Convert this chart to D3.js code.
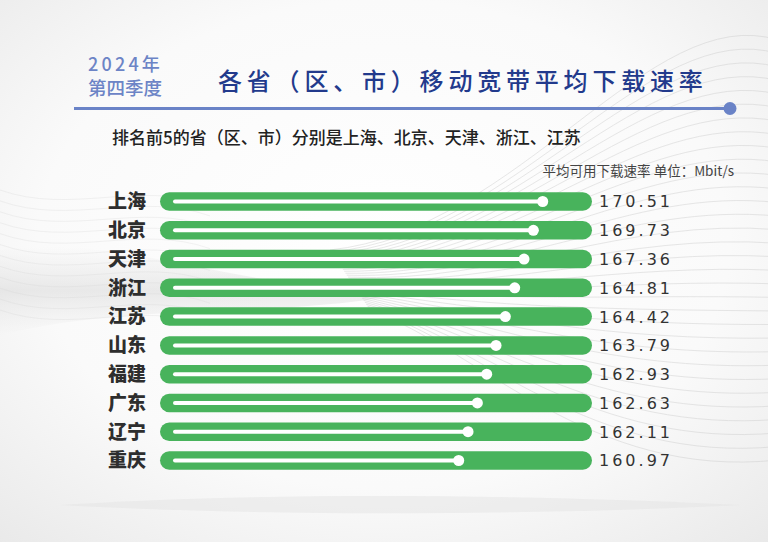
<!DOCTYPE html>
<html>
<head>
<meta charset="utf-8">
<script src="https://cdn.jsdelivr.net/npm/d3@7"></script>
<style>
  html, body { margin: 0; padding: 0; background: #f6f6f6; }
  svg { display: block; }
</style>
</head>
<body>
<div id="chart"></div>
<script>
// ---- data ----
const provinces = ["上海", "北京", "天津", "浙江", "江苏", "山东", "福建", "广东", "辽宁", "重庆"];
const speeds = [170.51, 169.73, 167.36, 164.81, 164.42, 163.79, 162.93, 162.63, 162.11, 160.97];
const yearLabel = "2024年";
const quarterLabel = "第四季度";
const titleText = "各省（区、市）移动宽带平均下载速率";
const subtitleText = "排名前5的省（区、市）分别是上海、北京、天津、浙江、江苏";
const unitText = "平均可用下载速率 单位：Mbit/s";

const W = 768, H = 542;
const CJK = "'Noto Sans CJK SC', 'Noto Sans', sans-serif";

const svg = d3.select("#chart").append("svg")
  .attr("width", W).attr("height", H).attr("viewBox", `0 0 ${W} ${H}`);

// ---- background ----
const defs = svg.append("defs");
const bg = defs.append("radialGradient").attr("id", "bg")
  .attr("cx", "50%").attr("cy", "45%").attr("r", "75%");
bg.append("stop").attr("offset", "0%").attr("stop-color", "#ffffff");
bg.append("stop").attr("offset", "60%").attr("stop-color", "#fafafa");
bg.append("stop").attr("offset", "100%").attr("stop-color", "#e9e9e9");
svg.append("rect").attr("width", W).attr("height", H).attr("fill", "url(#bg)");

const shade = defs.append("linearGradient").attr("id", "shade")
  .attr("x1", "0").attr("y1", "0").attr("x2", "0").attr("y2", "1");
shade.append("stop").attr("offset", "0%").attr("stop-color", "#dcdcdc").attr("stop-opacity", 0.0);
shade.append("stop").attr("offset", "50%").attr("stop-color", "#d6d6d6").attr("stop-opacity", 0.5);
shade.append("stop").attr("offset", "100%").attr("stop-color", "#dcdcdc").attr("stop-opacity", 0.0);

// soft grey sweep on the left
svg.append("path")
  .attr("d", "M0,250 C120,230 260,300 420,290 C300,320 140,300 0,335 Z")
  .attr("fill", "url(#shade)");
// soft band at bottom
svg.append("path")
  .attr("d", "M60,505 C260,492 520,494 740,505 C520,516 260,516 60,505 Z")
  .attr("fill", "#e4e4e4").attr("opacity", 0.5);

// decorative wave lines (right side)
const waveG = svg.append("g").attr("fill", "none").attr("stroke", "#c8c8c8")
  .attr("stroke-width", 0.7).attr("opacity", 0.6);
d3.range(32).forEach(i => {
  const t = i / 31;
  const y0 = 40 + t * 420;
  waveG.append("path").attr("d",
    `M${W + 10},${y0} C${650 - t * 60},${y0 - 40 + t * 60} ${520 - t * 40},${230 + t * 120} ${330 + t * 40},${250 + t * 60}`);
});
const waveL = svg.append("g").attr("fill", "none").attr("stroke", "#d4d4d4")
  .attr("stroke-width", 0.6).attr("opacity", 0.45);
d3.range(12).forEach(i => {
  const t = i / 11;
  const y0 = 190 + t * 120;
  waveL.append("path").attr("d",
    `M0,${y0} C70,${y0 + 25} 140,${y0 - 10} 210,${y0 + 15}`);
});

// ---- header ----
const tag = svg.append("text")
  .attr("font-family", CJK).attr("font-weight", 500).attr("fill", "#6c84c6");
tag.append("tspan").text(yearLabel)
  .attr("x", 88).attr("y", 71).attr("font-size", 18).attr("letter-spacing", 3.2);
tag.append("tspan").text(quarterLabel)
  .attr("x", 88).attr("y", 94.5).attr("font-size", 18.5);

svg.append("text").text(titleText)
  .attr("x", 218).attr("y", 89.5)
  .attr("font-family", CJK).attr("font-size", 24).attr("font-weight", 500)
  .attr("letter-spacing", 4.8).attr("fill", "#223a8c");

svg.append("line")
  .attr("x1", 74).attr("x2", 730).attr("y1", 108.5).attr("y2", 108.5)
  .attr("stroke", "#6a83c7").attr("stroke-width", 3);
svg.append("circle").attr("cx", 730).attr("cy", 108.5).attr("r", 6.5).attr("fill", "#6a83c7");

svg.append("text").text(subtitleText)
  .attr("x", 112).attr("y", 144)
  .attr("font-family", CJK).attr("font-size", 17).attr("font-weight", 500)
  .attr("fill", "#222");

svg.append("text").text(unitText)
  .attr("x", 734).attr("y", 176).attr("text-anchor", "end")
  .attr("font-family", CJK).attr("font-size", 13.5)
  .attr("fill", "#444");

// ---- scales ----
const y = d3.scalePoint().domain(provinces).range([201.5, 460.5]);
const barX = d3.scaleLinear().domain([0, 1]).range([160, 592]); // full-track capsule
const dotX = d3.scalePoint().domain(provinces).range([542.7, 458.7]); // rank position
const lineStart = 175;
const barH = 18.5;
const green = "#48b35c";

const rows = svg.append("g").selectAll("g")
  .data(provinces.map((p, i) => ({ p, v: speeds[i] })))
  .join("g")
  .attr("transform", d => `translate(0,${y(d.p)})`);

rows.append("text").text(d => d.p)
  .attr("x", 146).attr("y", 0).attr("dy", "0.36em").attr("text-anchor", "end")
  .attr("font-family", CJK).attr("font-size", 19).attr("font-weight", 900)
  .attr("fill", "#2e2e2e");

rows.append("rect")
  .attr("x", barX(0)).attr("y", -barH / 2)
  .attr("width", barX(1) - barX(0)).attr("height", barH)
  .attr("rx", barH / 2).attr("ry", barH / 2)
  .attr("fill", green);

rows.append("line")
  .attr("x1", lineStart).attr("x2", d => dotX(d.p))
  .attr("y1", 0).attr("y2", 0)
  .attr("stroke", "#fff").attr("stroke-width", 4).attr("stroke-linecap", "round");

rows.append("circle")
  .attr("cx", d => dotX(d.p)).attr("cy", 0).attr("r", 5.5)
  .attr("fill", "#fff");

rows.append("text").text(d => d3.format(".2f")(d.v))
  .attr("x", 599).attr("y", 0).attr("dy", "0.37em")
  .attr("font-family", "'DejaVu Sans', sans-serif").attr("font-size", 16)
  .attr("letter-spacing", 3).attr("fill", "#333");
</script>
</body>
</html>
